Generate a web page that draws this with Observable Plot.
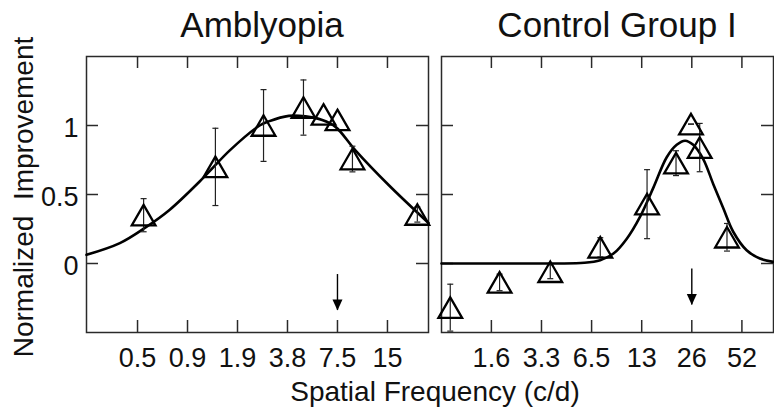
<!DOCTYPE html>
<html><head><meta charset="utf-8">
<script src="https://cdn.jsdelivr.net/npm/d3@7"></script>
<script src="https://cdn.jsdelivr.net/npm/@observablehq/plot@0.6"></script>
<style>
body{margin:0;background:#fff;}
#chart{position:relative;width:774px;height:415px;font-family:"Liberation Sans",Arial,Helvetica,sans-serif;color:#111;overflow:hidden;background:#fff}
#chart svg{position:absolute;top:0;background:transparent}
.lbl{position:absolute;white-space:pre;line-height:1;color:#111}
</style></head><body><div id="chart"></div>
<script>
// ---------- data ----------
const panelTitles = ["Amblyopia", "Control Group I"];
const yAxisTitle = "Normalized  Improvement";
const xAxisTitle = "Spatial Frequency (c/d)";

const yTickValues = [0, 0.5, 1];
const yTickLabels = ["0", "0.5", "1"];

// Amblyopia panel
const ambTickValues = [0.46875, 0.9375, 1.875, 3.75, 7.5, 15];
const ambTickLabels = ["0.5", "0.9", "1.9", "3.8", "7.5", "15"];
const ambFreq    = [0.51, 1.38, 2.69, 4.68, 6.18, 7.5, 9.23, 22.7];
const ambImprove = [0.35, 0.70, 1.00, 1.13, 1.08, 1.04, 0.757, 0.355];
const ambError   = [0.12, 0.28, 0.26, 0.20, null, null, 0.093, 0.055];
const ambFitFreq    = [0.231, 0.367, 0.519, 0.733, 1.165, 1.685, 2.55, 2.89, 3.82, 4.81, 6.07, 7.30, 9.62, 15.3, 26.5];
const ambFitImprove = [0.063, 0.148, 0.258, 0.39, 0.62, 0.82, 1.0, 1.03, 1.07, 1.066, 1.04, 0.99, 0.82, 0.567, 0.294];
const ambArrowFreq = [7.5];
const ambArrowTop = [-0.08];
const ambArrowTip = [-0.34];

// Control Group I panel
const ctlTickValues = [1.625, 3.25, 6.5, 13, 26, 52];
const ctlTickLabels = ["1.6", "3.3", "6.5", "13", "26", "52"];
const ctlFreq    = [0.92, 1.82, 3.67, 7.33, 14.0, 20.9, 25.7, 29.0, 42.3];
const ctlImprove = [-0.32, -0.137, -0.06, 0.117, 0.43, 0.727, 1.01, 0.84, 0.19];
const ctlError   = [0.17, 0.06, 0.05, 0.07, 0.25, 0.09, 0.0, 0.175, 0.10];
const ctlFitFreq    = [0.815, 2, 4, 5.87, 7.32, 8.80, 10.58, 12.72, 15.28, 18.38, 21.1, 23.7, 26.5, 30.5, 35.0, 40.2, 46.1, 55.5, 66.7, 80.1];
const ctlFitImprove = [0, 0, 0, 0.005, 0.024, 0.072, 0.18, 0.34, 0.55, 0.77, 0.86, 0.89, 0.86, 0.755, 0.575, 0.40, 0.23, 0.096, 0.036, 0.012];
const ctlArrowFreq = [26];
const ctlArrowTop = [-0.04];
const ctlArrowTip = [-0.30];

// ---------- drawing ----------
const H = 415;
const FONT = '"Liberation Sans", Arial, Helvetica, sans-serif';
const INK = "#111";
const capSymbol = {draw(ctx) { ctx.moveTo(-3, 0); ctx.lineTo(3, 0); }};
const headSymbol = {draw(ctx) { ctx.moveTo(-5, -11); ctx.lineTo(5, -11); ctx.lineTo(0, 0); ctx.closePath(); }};

function panel(cfg) {
  const pw = cfg.width - cfg.mLeft - cfg.mRight;
  const ph = H - cfg.mTop - cfg.mBottom;
  const pts = cfg.freq.map((f, i) => ({f, v: cfg.imp[i], e: cfg.err[i]}));
  const bars = pts.filter(d => d.e != null);
  const fit = cfg.fitF.map((f, i) => ({f, v: cfg.fitV[i]}));
  const arrows = cfg.arrowF.map((f, i) => ({f, top: cfg.arrowTop[i], tip: cfg.arrowTip[i]}));
  const tickLen = 12;
  return Plot.plot({
    width: cfg.width, height: H,
    marginLeft: cfg.mLeft, marginRight: cfg.mRight, marginTop: cfg.mTop, marginBottom: cfg.mBottom,
    style: {fontFamily: FONT, fontSize: "27px", color: INK, background: "transparent", overflow: "visible"},
    x: {type: "log", base: 2, domain: cfg.domain, axis: null},
    y: {domain: [-0.5, 1.5], axis: null},
    marks: [
      Plot.frame({stroke: "#2a2a2a", strokeWidth: 1.5}),
      Plot.tickY(yTickValues, {y: d => d, insetRight: pw - tickLen, stroke: "#2a2a2a", strokeWidth: 1.5}),
      Plot.tickY(yTickValues, {y: d => d, insetLeft: pw - tickLen, stroke: "#2a2a2a", strokeWidth: 1.5}),
      Plot.tickX(cfg.ticks, {x: d => d, insetBottom: ph - tickLen, stroke: "#2a2a2a", strokeWidth: 1.5}),
      Plot.tickX(cfg.ticks, {x: d => d, insetTop: ph - tickLen, stroke: "#2a2a2a", strokeWidth: 1.5}),
      Plot.axisX(cfg.ticks, {tickSize: 0, tickPadding: 15, fontSize: 27, fill: INK, label: null,
        tickFormat: d => cfg.labels[cfg.ticks.indexOf(d)]}),
      cfg.showY ? Plot.axisY(yTickValues, {tickSize: 0, tickPadding: 8, fontSize: 27, fill: INK, label: null, dy: 3,
        tickFormat: d => yTickLabels[yTickValues.indexOf(d)]}) : null,
      Plot.line(fit, {x: "f", y: "v", curve: "catmull-rom", stroke: "#000", strokeWidth: 2.6}),
      Plot.ruleX(bars, {x: "f", y1: d => d.v - d.e, y2: d => d.v + d.e, stroke: "#222", strokeWidth: 1.2}),
      Plot.dot(bars, {x: "f", y: d => d.v + d.e, symbol: capSymbol, stroke: "#222", strokeWidth: 1.2}),
      Plot.dot(bars, {x: "f", y: d => d.v - d.e, symbol: capSymbol, stroke: "#222", strokeWidth: 1.2}),
      Plot.dot(pts, {x: "f", y: "v", symbol: "triangle", r: 8.8, dy: 3.4, stroke: "#000", fill: "none", strokeWidth: 2.3}),
      Plot.ruleX(arrows, {x: "f", y1: "top", y2: "tip", stroke: "#000", strokeWidth: 1.4}),
      Plot.dot(arrows, {x: "f", y: "tip", symbol: headSymbol, fill: "#000", stroke: "none"})
    ]
  });
}

const chart = document.getElementById("chart");

const left = panel({
  width: 432, mLeft: 86, mRight: 4, mTop: 56, mBottom: 83,
  domain: [0.231, 26.5], ticks: ambTickValues, labels: ambTickLabels, showY: true,
  freq: ambFreq, imp: ambImprove, err: ambError, fitF: ambFitFreq, fitV: ambFitImprove,
  arrowF: ambArrowFreq, arrowTop: ambArrowTop, arrowTip: ambArrowTip
});
left.style.left = "0px";
chart.appendChild(left);

const right = panel({
  width: 340, mLeft: 7, mRight: 1, mTop: 56, mBottom: 83,
  domain: [0.815, 80.5], ticks: ctlTickValues, labels: ctlTickLabels, showY: false,
  freq: ctlFreq, imp: ctlImprove, err: ctlError, fitF: ctlFitFreq, fitV: ctlFitImprove,
  arrowF: ctlArrowFreq, arrowTop: ctlArrowTop, arrowTip: ctlArrowTip
});
right.style.left = "434px";
chart.appendChild(right);

function label(text, size, cx, baseline, rotate) {
  const s = document.createElement("div");
  s.className = "lbl";
  s.textContent = text;
  s.style.fontSize = size + "px";
  if (rotate) {
    s.style.left = cx + "px";
    s.style.top = baseline + "px";
    s.style.transform = "translate(-50%,-50%) rotate(-90deg)";
  } else {
    s.style.left = cx + "px";
    s.style.top = (baseline - 0.8465 * size) + "px";
    s.style.transform = "translateX(-50%)";
  }
  chart.appendChild(s);
}
label(panelTitles[0], 35, 262, 37);
label(panelTitles[1], 35, 617, 37);
label(xAxisTitle, 28, 435, 402);
label(yAxisTitle, 28, 23.5, 197, true);
</script>
</body></html>
